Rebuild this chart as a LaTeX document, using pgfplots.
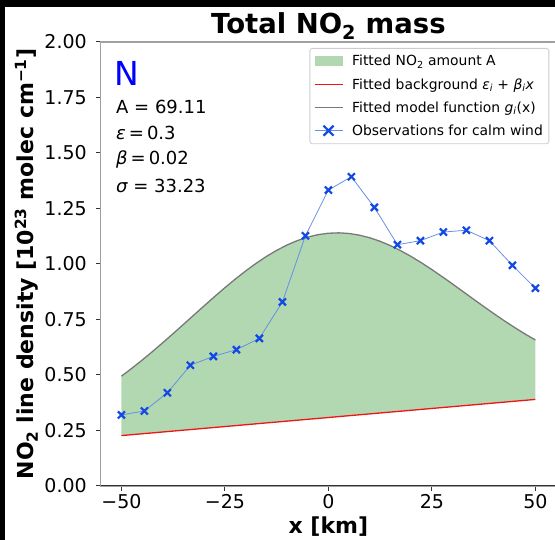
\documentclass[border=0pt]{standalone}
\usepackage{fontspec}
\setmainfont{DejaVu Sans}
\usepackage{pgfplots}
\usepackage{pgfplotstable}
\pgfplotsset{compat=1.18}
\usepgfplotslibrary{fillbetween}

\definecolor{fitfill}{RGB}{178,216,178}
\definecolor{obsline}{RGB}{100,145,228}
\definecolor{obsmark}{RGB}{18,72,228}
\definecolor{spinegray}{RGB}{160,160,160}
\definecolor{spinedark}{RGB}{50,50,50}
\definecolor{bgred}{RGB}{240,20,20}
\definecolor{modelgray}{RGB}{120,120,120}

% fitted model g(x) and linear background b(x)
\pgfplotstableread{
x g b
-50 0.4946 0.2270
-47.5 0.5299 0.2311
-45 0.5670 0.2352
-42.5 0.6055 0.2392
-40 0.6455 0.2433
-37.5 0.6865 0.2474
-35 0.7281 0.2515
-32.5 0.7700 0.2555
-30 0.8118 0.2596
-27.5 0.8530 0.2637
-25 0.8932 0.2678
-22.5 0.9318 0.2718
-20 0.9684 0.2759
-17.5 1.0025 0.2800
-15 1.0337 0.2841
-12.5 1.0614 0.2881
-10 1.0855 0.2922
-7.5 1.1054 0.2963
-5 1.1211 0.3004
-2.5 1.1321 0.3044
0 1.1385 0.3085
2.5 1.1403 0.3126
5 1.1374 0.3167
7.5 1.1298 0.3207
10 1.1181 0.3248
12.5 1.1022 0.3289
15 1.0826 0.3330
17.5 1.0595 0.3370
20 1.0336 0.3411
22.5 1.0052 0.3452
25 0.9747 0.3493
27.5 0.9426 0.3533
30 0.9096 0.3574
32.5 0.8760 0.3615
35 0.8422 0.3656
37.5 0.8087 0.3696
40 0.7759 0.3737
42.5 0.7441 0.3778
45 0.7137 0.3819
47.5 0.6847 0.3859
50 0.6576 0.3900
}\modeltable

% observed line densities for calm wind
\pgfplotstableread{
x y
-50.000 0.320
-44.444 0.338
-38.889 0.420
-33.333 0.544
-27.778 0.584
-22.222 0.614
-16.667 0.665
-11.111 0.829
-5.556 1.127
0.000 1.333
5.556 1.393
11.111 1.255
16.667 1.087
22.222 1.105
27.778 1.144
33.333 1.152
38.889 1.105
44.444 0.994
50.000 0.891
}\obstable

\begin{document}
\begin{tikzpicture}
\begin{axis}[
  scale only axis,
  width=455.4pt, height=444pt,
  xmin=-55, xmax=55, ymin=0, ymax=2,
  axis line style={spinegray, line width=1.2pt},
  xtick={-50,-25,0,25,50},
  xticklabels={−50,−25,0,25,50},
  ytick={0,0.25,0.5,0.75,1,1.25,1.5,1.75,2},
  yticklabels={0.00,0.25,0.50,0.75,1.00,1.25,1.50,1.75,2.00},
  tick align=outside,
  xtick pos=left, ytick pos=left,
  major tick length=5pt,
  tick style={spinedark, line width=1pt},
  ticklabel style={font=\fontsize{19}{22}\selectfont},
  yticklabel style={inner sep=0pt, anchor=east, xshift=-8.7pt},
  xticklabel style={inner sep=0pt, anchor=base, yshift=-18pt},
  title={Total NO\textsubscript{2} mass},
  title style={font=\bfseries\fontsize{27.5}{32}\selectfont, inner sep=0pt,
    at={(axis description cs:0.5,1.0056)}, anchor=base},
  xlabel={x [km]},
  xlabel style={font=\bfseries\fontsize{22}{26}\selectfont, inner sep=0pt,
    at={(axis description cs:0.5,-0.1081)}, anchor=base},
  ylabel={NO\textsubscript{2} line density [10\textsuperscript{23} molec cm\textsuperscript{−1}]},
  ylabel style={font=\bfseries\fontsize{22}{26}\selectfont, inner sep=0pt,
    at={(axis description cs:-0.1474,0.5)}, anchor=base, rotate=0},
  legend cell align=left,
  legend style={at={(axis description cs:0.985,0.9865)}, anchor=north east,
    draw=black!20, line width=0.8pt, rounded corners=2.5pt, fill=white,
    font=\fontsize{13.9}{16}\selectfont, inner xsep=4pt, inner ysep=5pt,
    row sep=7pt,
    /tikz/every odd column/.append style={column sep=7pt}},
]
% invisible boundaries for the shaded area
\addplot[draw=none, name path=model, forget plot] table[x=x, y=g] {\modeltable};
\addplot[draw=none, name path=bg, forget plot] table[x=x, y=b] {\modeltable};

\addplot[fill=fitfill, draw=none,
  legend image code/.code={\path[fill=fitfill, draw=none, rounded corners=0pt]
    (0pt,-5pt) rectangle (28pt,5pt);}]
  fill between[of=model and bg];
\addlegendentry{Fitted NO\textsubscript{2} amount A}

\addplot[bgred, line width=1.3pt,
  legend image code/.code={\path[draw=bgred, line width=1.3pt] (0pt,0pt) -- (28pt,0pt);}]
  table[x=x, y=b] {\modeltable};
\addlegendentry{Fitted background {\itshape ε\textsubscript{i}} + {\itshape β\textsubscript{i}x}}

\addplot[modelgray, line width=1.3pt,
  legend image code/.code={\path[draw=modelgray, line width=1.3pt] (0pt,0pt) -- (28pt,0pt);}]
  table[x=x, y=g] {\modeltable};
\addlegendentry{Fitted model function {\itshape g\textsubscript{i}}(x)}

\addplot[obsline, line width=0.8pt, mark=x, mark size=5pt,
  mark options={obsmark, line width=2.2pt},
  legend image code/.code={
    \path[draw=obsline, line width=0.8pt] (0pt,0pt) -- (28pt,0pt);
    \path[draw=obsmark, line width=2.2pt] (9pt,-5pt) -- (19pt,5pt) (9pt,5pt) -- (19pt,-5pt);}]
  table[x=x, y=y] {\obstable};
\addlegendentry{Observations for calm wind}

% bottom spine is darker than the others
\draw[spinedark, line width=1.2pt] (rel axis cs:0,0) -- (rel axis cs:1,0);

% fit parameters
\node[anchor=base west, inner sep=0pt, text=blue, font=\fontsize{33}{36}\selectfont]
  at (axis cs:-51.6,1.802) {N};
\begin{scope}[every node/.style={anchor=base west, inner sep=0pt, font=\fontsize{18}{21}\selectfont}]
\node at (axis cs:-51.3,1.680) {A = 69.11};
\node at (axis cs:-51.3,1.563) {{\itshape ε}\,=\,0.3};
\node at (axis cs:-51.3,1.446) {{\itshape β}\,=\,0.02};
\node at (axis cs:-51.3,1.320) {{\itshape σ} = 33.23};
\end{scope}

\coordinate (O) at (rel axis cs:0,0);
\end{axis}

\pgfresetboundingbox
\path[use as bounding box] ([shift={(-100.7pt,-54pt)}]O) rectangle ([shift={(454.3pt,486pt)}]O);
\fill[black] ([shift={(-100.7pt,-54pt)}]O) rectangle ([shift={(-95.7pt,486pt)}]O);
\fill[black] ([shift={(-100.7pt,479pt)}]O) rectangle ([shift={(454.3pt,486pt)}]O);
\end{tikzpicture}
\end{document}
